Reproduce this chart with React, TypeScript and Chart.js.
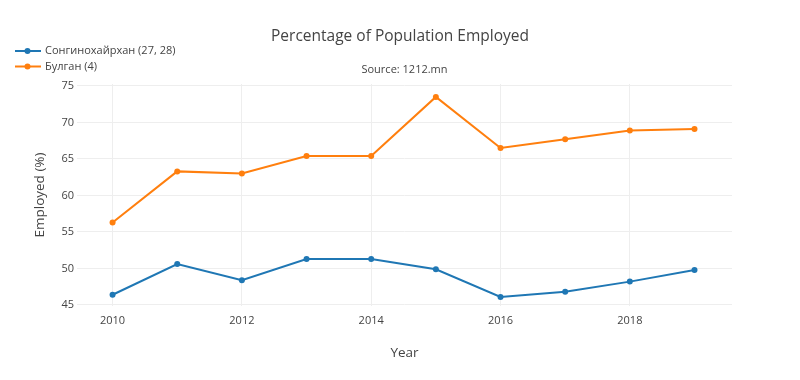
import React, { useEffect, useRef } from "react";
import { Chart, registerables } from "chart.js";

Chart.register(...registerables);

const years = [2010, 2011, 2012, 2013, 2014, 2015, 2016, 2017, 2018, 2019];
const songinoValues = [46.4, 50.6, 48.4, 51.3, 51.3, 49.9, 46.1, 46.8, 48.2, 49.8];
const bulganValues = [56.3, 63.3, 63.0, 65.4, 65.4, 73.5, 66.5, 67.7, 68.9, 69.1];
const seriesNames = ["Сонгинохайрхан (27, 28)", "Булган (4)"];
const seriesColors = ["#1f77b4", "#ff7f0e"];
const xTicks = [2010, 2012, 2014, 2016, 2018];
const yTicks = [45, 50, 55, 60, 65, 70, 75];
const titleText = "Percentage of Population Employed";
const subtitleText = "Source: 1212.mn";
const xTitle = "Year";
const yTitle = "Employed (%)";

const FONT = "'Open Sans', verdana, arial, sans-serif";
const TEXT = "#444";

const overlayPlugin = {
  id: "overlay",
  afterDraw(chart: any) {
    const ctx = chart.ctx as CanvasRenderingContext2D;
    const area = chart.chartArea;
    ctx.save();
    ctx.fillStyle = TEXT;
    ctx.textBaseline = "middle";
    ctx.textAlign = "center";
    ctx.font = `15.5px ${FONT}`;
    ctx.fillText(titleText, 400, 37);
    ctx.font = `11px ${FONT}`;
    ctx.fillText(subtitleText, (area.left + area.right) / 2, 70);
    // legend
    ctx.textAlign = "left";
    seriesNames.forEach((name, i) => {
      const y = 51 + i * 15.5;
      ctx.strokeStyle = seriesColors[i];
      ctx.lineWidth = 2;
      ctx.beginPath();
      ctx.moveTo(15, y);
      ctx.lineTo(41, y);
      ctx.stroke();
      ctx.fillStyle = seriesColors[i];
      ctx.beginPath();
      ctx.arc(27.5, y, 3, 0, Math.PI * 2);
      ctx.fill();
      ctx.fillStyle = TEXT;
      ctx.font = `11px ${FONT}`;
      ctx.fillText(name, 45, y);
    });
    ctx.restore();
  },
};

export default function App() {
  const canvasRef = useRef<HTMLCanvasElement | null>(null);

  useEffect(() => {
    document.body.style.margin = "0";
    const canvas = canvasRef.current;
    if (!canvas) return;
    const makeData = (vals: number[]) => years.map((x, i) => ({ x, y: vals[i] }));
    const chart = new Chart(canvas, {
      type: "line",
      data: {
        datasets: [songinoValues, bulganValues].map((vals, i) => ({
          label: seriesNames[i],
          data: makeData(vals),
          borderColor: seriesColors[i],
          backgroundColor: seriesColors[i],
          borderWidth: 2,
          pointRadius: 3,
          pointBorderWidth: 0,
          tension: 0,
          fill: false,
        })),
      },
      options: {
        animation: false,
        responsive: true,
        maintainAspectRatio: false,
        layout: { padding: { top: 84, right: 68, left: 0, bottom: 0 } },
        plugins: {
          legend: { display: false },
          title: { display: false },
          tooltip: { enabled: false },
        },
        scales: {
          x: {
            type: "linear",
            min: 2009.45,
            max: 2019.58,
            afterFit: (s: any) => {
              s.height = 74;
            },
            afterBuildTicks: (s: any) => {
              s.ticks = xTicks.map((v) => ({ value: v }));
            },
            grid: { color: "#eeeeee", lineWidth: 1, drawTicks: false },
            border: { display: false },
            ticks: {
              color: TEXT,
              font: { family: FONT, size: 11 },
              padding: 8,
              maxRotation: 0,
              callback: (v: any) => String(v),
            },
            title: {
              display: true,
              text: xTitle,
              color: TEXT,
              font: { family: FONT, size: 13.5 },
              padding: { top: 0, bottom: 19 },
            },
          },
          y: {
            type: "linear",
            min: 44.86,
            max: 75.27,
            afterFit: (s: any) => {
              s.width = 77;
            },
            afterBuildTicks: (s: any) => {
              s.ticks = yTicks.map((v) => ({ value: v }));
            },
            grid: { color: "#eeeeee", lineWidth: 1, drawTicks: false },
            border: { display: false },
            ticks: {
              color: TEXT,
              font: { family: FONT, size: 11 },
              padding: 3,
              callback: (v: any) => String(v),
            },
            title: {
              display: true,
              text: yTitle,
              color: TEXT,
              font: { family: FONT, size: 13.5 },
              padding: { top: 32, bottom: 0 },
            },
          },
        },
      },
      plugins: [overlayPlugin],
    });
    return () => chart.destroy();
  }, []);

  return (
    <div style={{ width: 800, height: 380, position: "relative", background: "#fff" }}>
      <canvas ref={canvasRef} />
    </div>
  );
}
